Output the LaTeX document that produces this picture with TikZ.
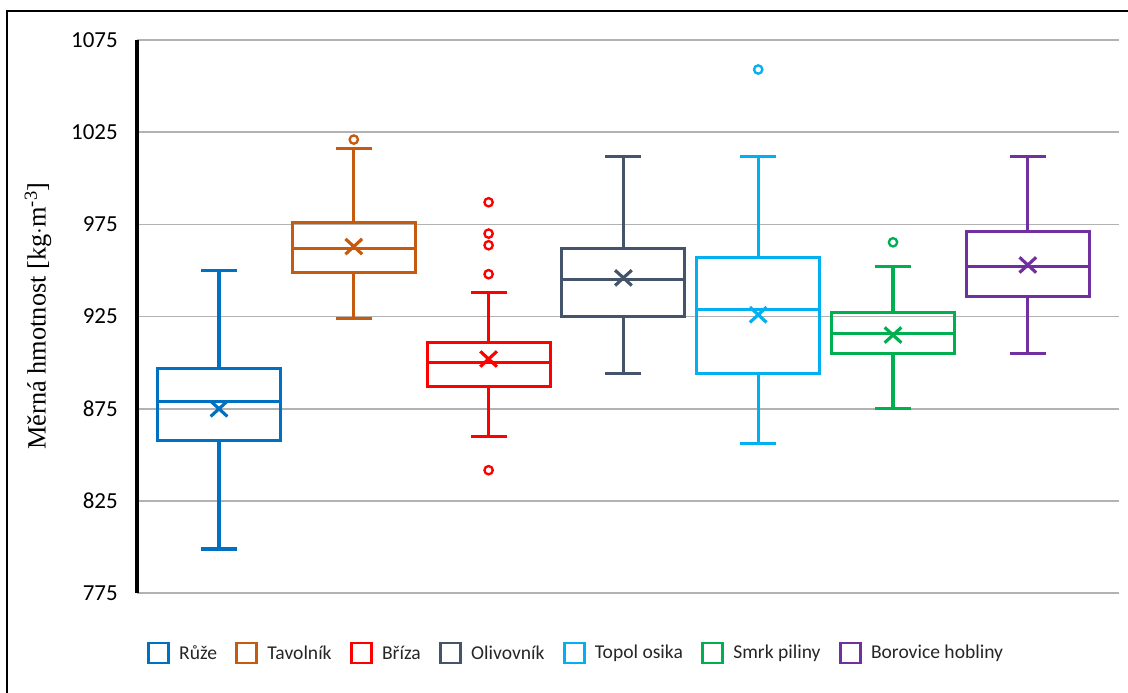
\documentclass[tikz,border=0pt]{standalone}
\usepackage{fontspec}
\setmainfont{Liberation Serif}
\newfontfamily\calib{Carlito}
\usepackage{tikz}
\usetikzlibrary{positioning}
\definecolor{ruze}{HTML}{0070C0}
\definecolor{tavolnik}{HTML}{C55A11}
\definecolor{briza}{HTML}{FF0000}
\definecolor{olivovnik}{HTML}{44546A}
\definecolor{topol}{HTML}{00B0F0}
\definecolor{smrk}{HTML}{00B050}
\definecolor{borovice}{HTML}{7030A0}
\tikzset{
  gridline/.style={draw=black!30, line width=1.5pt},
  axisline/.style={draw=black, line width=3pt},
  boxline/.style={line width=2.7pt},
  outlier/.style={line width=2pt},
  ticklabel/.style={
    font=\calib\fontsize{19.6}{20}\selectfont,
    anchor=east,
    inner sep=0pt},
  axistitle/.style={
    font=\fontsize{22.5}{24}\selectfont,
    rotate=90},
  legendbox/.style={
    rectangle,
    draw, line width=2.5pt,
    minimum size=0.6cm,
    inner sep=0pt},
  legendtext/.style={
    font=\calib\fontsize{16.7}{18}\selectfont,
    text=black!85,
    inner sep=0pt},
}
\begin{document}
\begin{tikzpicture}[x=0.03cm, y=0.03cm]
\useasboundingbox (0,0) rectangle (1128,692);
% frame
\draw[line width=1pt] (7,-10) -- (7,681) -- (1140,681);
\node[axistitle] (title) at (38,376) {Měrná hmotnost [kg$\cdot$m\textsuperscript{-3}]};
\begin{scope}[y=0.05532cm, yshift=-39.903cm]
  \foreach \v in {775,825,...,1075}{
    \draw[gridline] (137,\v) -- (1119,\v);
    \node[ticklabel] (tick\v) at (118,\v) {\v};
  }
  \draw[axisline] (137,775) -- (137,1075);
  \foreach \i/\cl/\lo/\qa/\md/\mn/\qb/\hi in {
      0/ruze/799/858/879/875/897/950,
      1/tavolnik/924/949/962/963/976/1016,
      2/briza/860/887/900/902/911/938,
      3/olivovnik/894/925/945/946/962/1012,
      4/topol/856/894/929/926/957/1012,
      5/smrk/875/905/916/915/927/952,
      6/borovice/905/936/952/953/971/1012}{
    \pgfmathsetmacro\cx{219+134.8*\i}
    \draw[boxline, draw=\cl] (\cx,\lo) -- (\cx,\qa) (\cx,\qb) -- (\cx,\hi)
      (\cx-18,\lo) -- (\cx+18,\lo) (\cx-18,\hi) -- (\cx+18,\hi);
    \draw[boxline, draw=\cl] (\cx-61.5,\qa) rectangle (\cx+61.5,\qb)
      (\cx-61.5,\md) -- (\cx+61.5,\md);
    \draw[boxline, draw=\cl] (\cx,\mn) +(-0.25cm,-0.23cm) -- +(0.25cm,0.23cm)
      +(-0.25cm,0.23cm) -- +(0.25cm,-0.23cm);
  }
  % outliers
  \foreach \i/\cl/\v in {1/tavolnik/1021, 2/briza/987, 2/briza/970, 2/briza/963.7,
      2/briza/948, 2/briza/841.7, 4/topol/1059, 5/smrk/965.3}{
    \draw[outlier, draw=\cl] (219+134.8*\i,\v) circle[radius=0.125cm];
  }
\end{scope}
% legend
\coordinate (lgt0) at (129,39);
\foreach \nm/\cl [count=\k, remember=\k as \prev (initially 0)] in {Růže/ruze,
    Tavolník/tavolnik, Bříza/briza, Olivovník/olivovnik, Topol osika/topol,
    Smrk piliny/smrk, Borovice hobliny/borovice}{
  \node[legendbox, draw=\cl, right=0.54cm of lgt\prev] (lgb\k) {};
  \node[legendtext, right=0.27cm of lgb\k] (lgt\k) {\nm};
}
\end{tikzpicture}
\end{document}
